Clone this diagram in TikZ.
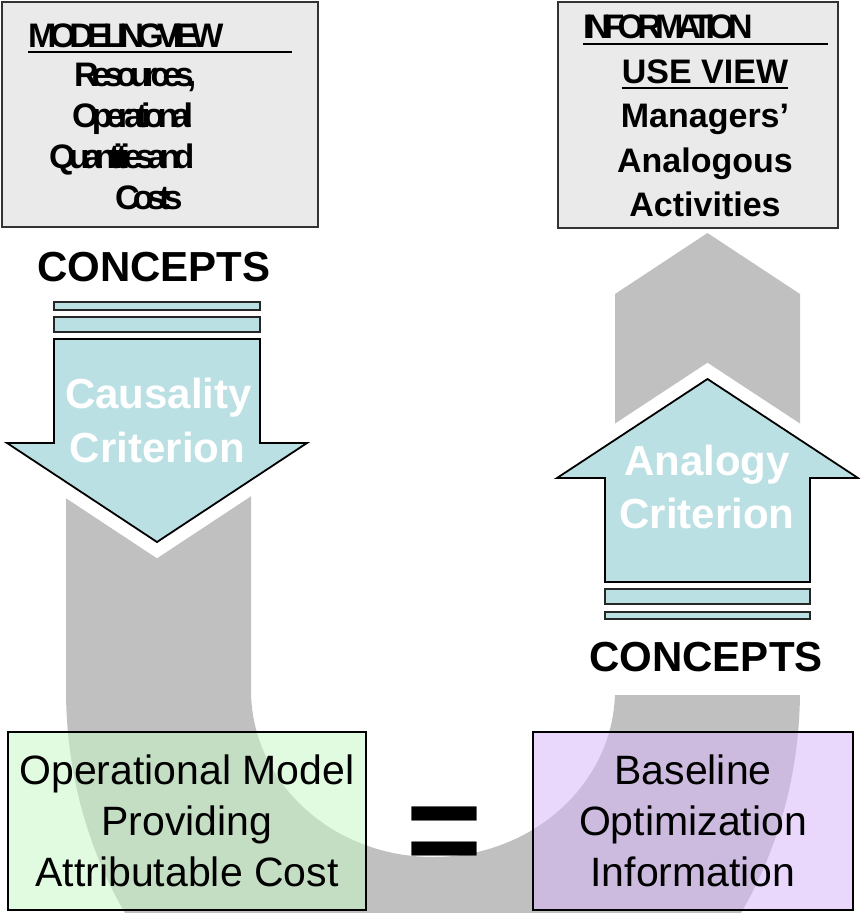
\documentclass[tikz,border=0pt]{standalone}
\usepackage{fontspec}
\setmainfont{Liberation Sans}
\newfontfamily\tightsans[LetterSpace=-20]{Liberation Sans}
\definecolor{Panel}{HTML}{EAEAEA}
\definecolor{Ice}{HTML}{BBE0E3}
\definecolor{Band}{HTML}{C0C0C0}
\definecolor{Mint}{RGB}{200,248,200}
\definecolor{Lilac}{RGB}{215,184,249}
\tikzset{
  viewbox/.style={draw=black!80,fill=Panel,line width=2pt},
  crit/.style={draw=black,fill=Ice,line width=1.8pt,line join=miter},
  halo/.style={draw=white,fill=white,line width=27pt,line join=miter},
  bar/.style={draw=black!85,fill=Ice,line width=1.8pt},
  result/.style={draw=black,line width=2.5pt,fill opacity=.55,text opacity=1,minimum height=178pt,align=center,inner sep=0pt,font=\fontsize{41pt}{51pt}\selectfont},
  critlabel/.style={text=white,inner sep=0pt,anchor=base,font=\fontsize{42pt}{50pt}\selectfont\bfseries},
  concept/.style={inner sep=0pt,anchor=base,font=\fontsize{42pt}{48pt}\selectfont\bfseries},
  squeezed/.style={inner sep=0pt,anchor=base west,font=\fontsize{34pt}{40pt}\selectfont\tightsans\bfseries},
  viewtext/.style={inner sep=0pt,anchor=base,font=\fontsize{34pt}{40pt}\selectfont\bfseries},
  rule/.style={draw=black,line width=2.5pt}
}

\begin{document}
\begin{tikzpicture}[x=1pt,y=-1pt]
  \clip (0,0) rectangle (860,913);

  % grey U-turn band running behind everything
  \fill[Band] (66,470) -- (66,690)
    arc[start angle=180,end angle=0,x radius=367,y radius=410]
    -- (800,294) -- (707.5,233) -- (615,294) -- (615,690)
    arc[start angle=0,end angle=180,x radius=182,y radius=167]
    -- (251,470) -- cycle;

  % white margins round the criterion arrows
  \path[halo] (54,339) -- (260,339) -- (260,443) -- (307,443) -- (157,542) -- (7,443) -- (54,443) -- cycle;
  \path[halo] (707.5,379) -- (858,478) -- (810,478) -- (810,582) -- (605,582) -- (605,478) -- (557,478) -- cycle;
  \fill[white] (605,470) rectangle (810,695);

  % the two views
  \node[viewbox,minimum width=316pt,minimum height=225pt] (modelview) at (160,114.5) {};
  \node[viewbox,minimum width=280pt,minimum height=226pt] (useview) at (698,115) {};

  \node[squeezed] (mvtitle) at (28,47) {MODELINGVIEW};
  \draw[rule] (28,52) -- (292,52);
  \node[squeezed] (resources) at (74,86) {Resources,};
  \node[squeezed] (operational) at (72,127) {Operational};
  \node[squeezed] (quantities) at (49,168) {Quantitiesand};
  \node[squeezed] (costs) at (115,209) {Costs};

  \node[squeezed] (infotitle) at (583,38) {INFORMATION};
  \draw[rule] (583,44) -- (828,44);
  \node[viewtext] (usetitle) at (705,83) {USE VIEW};
  \draw[rule] ([yshift=-5pt]usetitle.base west) -- ([yshift=-5pt]usetitle.base east);
  \node[viewtext] (managers) at (705,127) {Managers’};
  \node[viewtext] (analogous) at (705,172) {Analogous};
  \node[viewtext] (activities) at (705,216) {Activities};

  % causality: concepts down into the model
  \node[concept] (conceptsin) at (154,281) {CONCEPTS};
  \draw[bar] (54,302) rectangle (260,310);
  \draw[bar] (54,317) rectangle (260,332);
  \draw[crit] (54,339) -- (260,339) -- (260,443) -- (307,443) -- (157,542) -- (7,443) -- (54,443) -- cycle;
  \node[critlabel] (causality) at (158.5,408) {Causality};
  \node[critlabel] (causecrit) at (157.5,462) {Criterion};

  % analogy: concepts up into the use view
  \draw[crit] (707.5,379) -- (858,478) -- (810,478) -- (810,582) -- (605,582) -- (605,478) -- (557,478) -- cycle;
  \node[critlabel] (analogy) at (707,475) {Analogy};
  \node[critlabel] (analogcrit) at (707,528) {Criterion};
  \draw[bar] (605,589) rectangle (810,604);
  \draw[bar] (605,612) rectangle (810,619);
  \node[concept] (conceptsout) at (706,671) {CONCEPTS};

  % the two results
  \node[result,fill=Mint,minimum width=358pt] (opmodel) at (187,821) {Operational Model\\Providing\\Attributable Cost};
  \node[result,fill=Lilac,minimum width=320pt] (baseopt) at (693,821) {Baseline\\Optimization\\Information};
  \node[inner sep=0pt,font=\fontsize{130pt}{130pt}\selectfont\bfseries] (equals) at (444.5,840.5) {=};
\end{tikzpicture}
\end{document}
